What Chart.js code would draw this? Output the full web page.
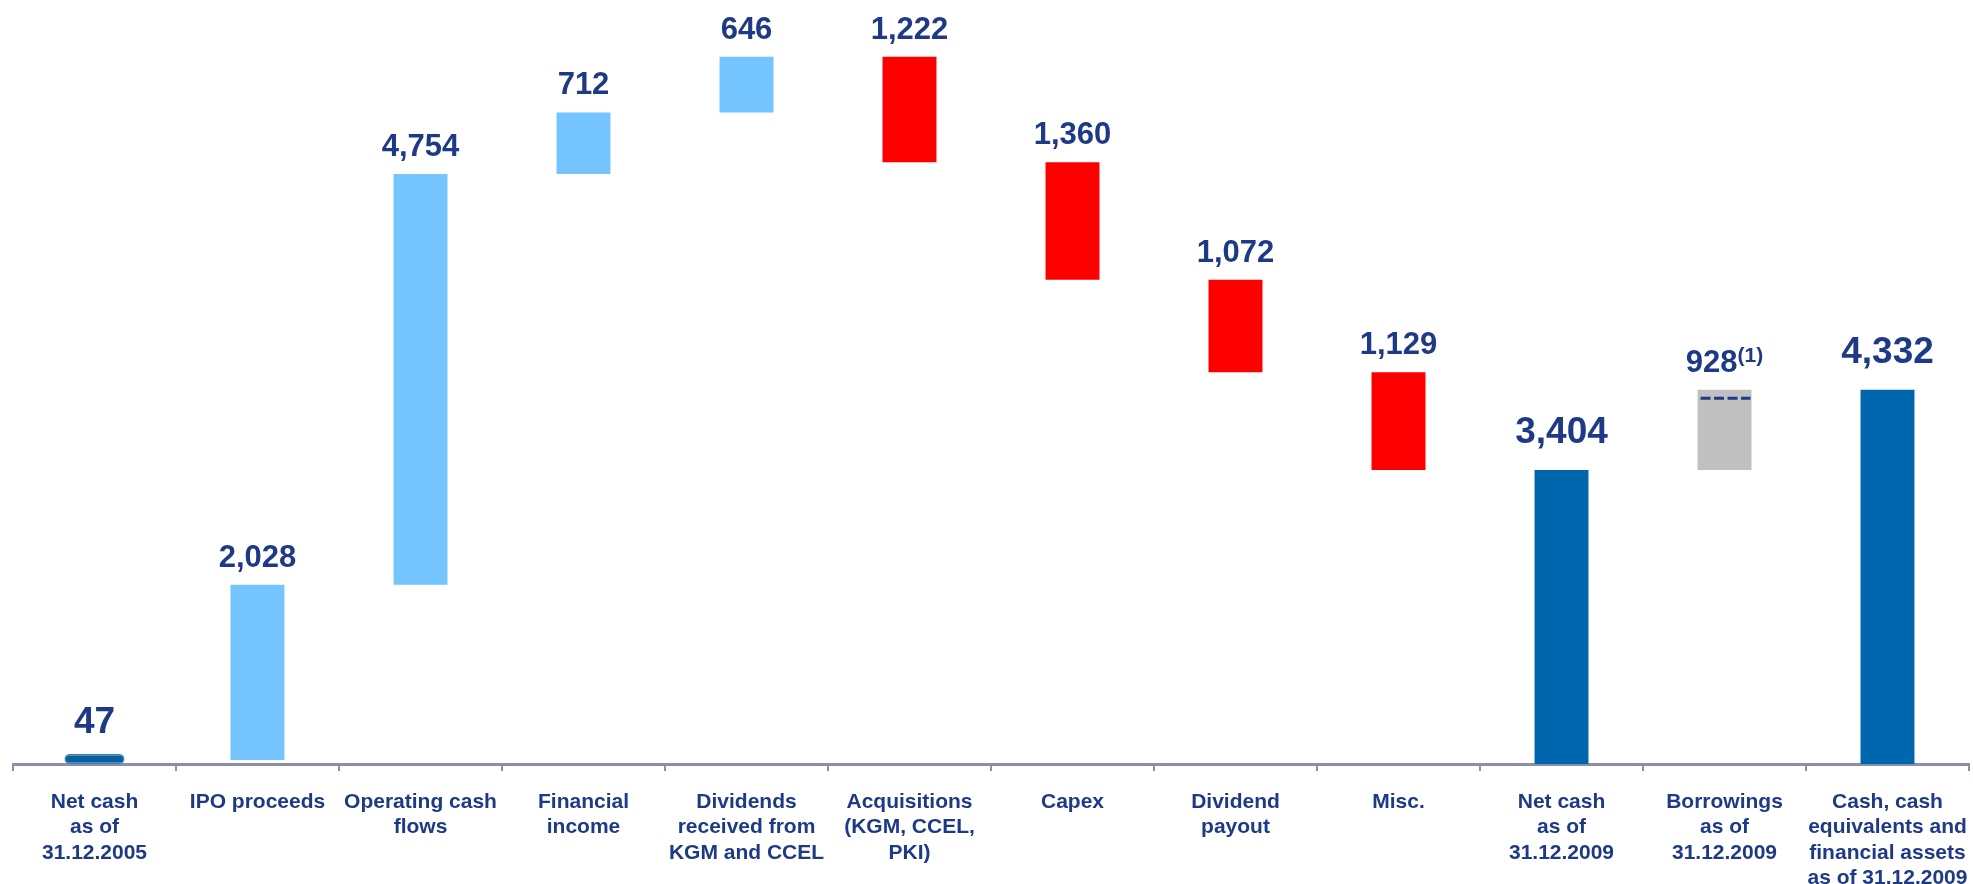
<!DOCTYPE html>
<html>
<head>
<meta charset="utf-8">
<title>Net cash bridge 2005–2009</title>
<script src="https://cdn.jsdelivr.net/npm/chart.js@4/dist/chart.umd.min.js"></script>
<style>
  html, body { margin: 0; padding: 0; background: #ffffff; }
  #wrap { position: relative; width: 1973px; height: 884px; }
</style>
</head>
<body>
<div id="wrap"><canvas id="bridge"></canvas></div>
<script>
// Category labels (one array entry per line)
const categories = [
  ["Net cash", "as of", "31.12.2005"],
  ["IPO proceeds"],
  ["Operating cash", "flows"],
  ["Financial", "income"],
  ["Dividends", "received from", "KGM and CCEL"],
  ["Acquisitions", "(KGM, CCEL,", "PKI)"],
  ["Capex"],
  ["Dividend", "payout"],
  ["Misc."],
  ["Net cash", "as of", "31.12.2009"],
  ["Borrowings", "as of", "31.12.2009"],
  ["Cash, cash", "equivalents and", "financial assets", "as of 31.12.2009"]
];

// Movements (EUR m); totals are absolute levels, the rest are changes
const amounts = [47, 2028, 4754, 712, 646, -1222, -1360, -1072, -1129, 3404, 928, 4332];
const barKinds = ["total", "inflow", "inflow", "inflow", "inflow", "outflow", "outflow", "outflow", "outflow", "total", "borrowing", "total"];
const labelNotes = ["", "", "", "", "", "", "", "", "", "", "(1)", ""];

const NAVY = "#1e3a87";
const AXIS = "#8b8fae";
const FONT = '"Liberation Sans", Arial, Helvetica, sans-serif';
const kindColors = {
  total: "#0066ad",
  inflow: "#73c4ff",
  outflow: "#ff0000",
  borrowing: "#c0c0c0"
};

// Build floating [low, high] ranges by walking the bridge
const ranges = [];
let running = 0;
amounts.forEach((v, i) => {
  if (barKinds[i] === "total") {
    ranges.push([0, v]);
    running = v;
  } else {
    const next = running + v;
    ranges.push([Math.min(running, next), Math.max(running, next)]);
    running = next;
  }
});

const openingData = ranges.map((r, i) => (i === 0 ? r : null));
const movementData = ranges.map((r, i) => (i === 0 ? null : r));

// Value labels above each bar, plus the dashed marker inside the borrowings bar
const valueLabels = {
  id: "valueLabels",
  afterDatasetsDraw(chart) {
    const ctx = chart.ctx;
    const y = chart.scales.y;
    ctx.save();
    ranges.forEach((r, i) => {
      const dsIndex = i === 0 ? 0 : 1;
      const el = chart.getDatasetMeta(dsIndex).data[i];
      if (!el) return;
      const topPx = y.getPixelForValue(r[1]);
      const isTotal = barKinds[i] === "total";
      const size = isTotal ? 37 : 31;
      const gap = isTotal ? 27 : 18;
      const text = Math.abs(amounts[i]).toLocaleString("en-US");
      ctx.fillStyle = NAVY;
      ctx.textBaseline = "alphabetic";
      ctx.font = "bold " + size + "px " + FONT;
      const mainW = ctx.measureText(text).width;
      let noteW = 0;
      if (labelNotes[i]) {
        ctx.font = "bold 21px " + FONT;
        noteW = ctx.measureText(labelNotes[i]).width;
      }
      const left = el.x - (mainW + noteW) / 2;
      const base = topPx - gap;
      ctx.font = "bold " + size + "px " + FONT;
      ctx.textAlign = "left";
      ctx.fillText(text, left, base);
      if (labelNotes[i]) {
        ctx.font = "bold 21px " + FONT;
        ctx.fillText(labelNotes[i], left + mainW, base - 10);
      }

      if (barKinds[i] === "borrowing") {
        const half = el.width / 2;
        ctx.strokeStyle = NAVY;
        ctx.lineWidth = 3;
        ctx.setLineDash([10, 3.5]);
        ctx.beginPath();
        ctx.moveTo(el.x - half + 3, topPx + 8.5);
        ctx.lineTo(el.x + half - 1, topPx + 8.5);
        ctx.stroke();
        ctx.setLineDash([]);
      }
    });
    ctx.restore();
  }
};

new Chart(document.getElementById("bridge"), {
  type: "bar",
  data: {
    labels: categories,
    datasets: [
      {
        label: "Opening net cash",
        data: openingData,
        backgroundColor: "#0a5f9e",
        borderColor: "#3a7fb8",
        borderWidth: 1.5,
        borderRadius: 5,
        borderSkipped: false,
        minBarLength: 10,
        barPercentage: 0.37,
        categoryPercentage: 1,
        grouped: false,
        clip: false
      },
      {
        label: "Cash movements",
        data: movementData,
        backgroundColor: barKinds.map(k => kindColors[k]),
        borderWidth: 0,
        barPercentage: 0.331,
        categoryPercentage: 1,
        grouped: false
      }
    ]
  },
  options: {
    responsive: true,
    maintainAspectRatio: false,
    animation: false,
    layout: { padding: { left: 13, right: 4, top: 0, bottom: 0 } },
    plugins: {
      legend: { display: false },
      tooltip: { enabled: false },
      title: { display: false }
    },
    scales: {
      x: {
        offset: true,
        grid: {
          offset: true,
          display: true,
          drawOnChartArea: false,
          drawTicks: true,
          tickLength: 7,
          tickWidth: 2,
          tickColor: AXIS,
          color: AXIS,
          lineWidth: 2
        },
        border: { display: true, color: AXIS, width: 3 },
        ticks: {
          autoSkip: false,
          maxRotation: 0,
          minRotation: 0,
          padding: 18,
          color: NAVY,
          font: { family: FONT, size: 21, weight: "bold", lineHeight: 1.22 }
        },
        afterFit(scale) {
          scale.height = 120;
          // edge labels fit inside their category slots; no extra side padding
          scale.paddingLeft = 0;
          scale.paddingRight = 0;
        }
      },
      y: {
        display: false,
        min: 0,
        max: 8843
      }
    }
  },
  plugins: [valueLabels]
});
</script>
</body>
</html>
